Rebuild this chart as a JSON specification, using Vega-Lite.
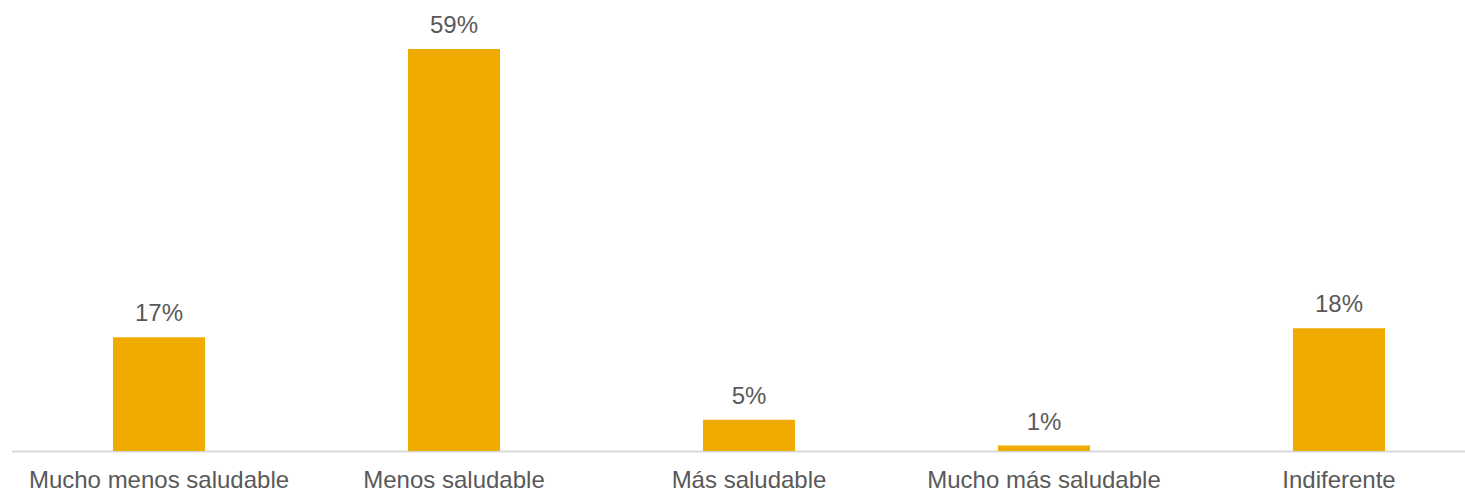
{
  "$schema": "https://vega.github.io/schema/vega-lite/v6.json",
  "width": 1475,
  "height": 402,
  "autosize": {"type": "none"},
  "padding": {"left": 11.5, "top": 49, "right": 0, "bottom": 40},
  "background": "white",
  "config": {"view": {"stroke": null}, "font": "Liberation Sans"},
  "data": {
    "values": [
      {"cat": "Mucho menos saludable", "pct": 16.7, "label": "17%"},
      {"cat": "Menos saludable", "pct": 59, "label": "59%"},
      {"cat": "Más saludable", "pct": 4.6, "label": "5%"},
      {"cat": "Mucho más saludable", "pct": 0.8, "label": "1%"},
      {"cat": "Indiferente", "pct": 18, "label": "18%"}
    ]
  },
  "encoding": {
    "x": {
      "field": "cat",
      "type": "nominal",
      "sort": null,
      "scale": {"paddingInner": 0.688, "paddingOuter": 0.344},
      "axis": {
        "title": null,
        "labelAngle": 0,
        "ticks": false,
        "labelFontSize": 24,
        "labelLimit": 0,
        "labelColor": "#595959",
        "labelBaseline": "alphabetic",
        "labelPadding": 36,
        "domainColor": "#D9D9D9",
        "domainWidth": 2,
        "labelFont": "Liberation Sans"
      }
    },
    "y": {
      "field": "pct",
      "type": "quantitative",
      "scale": {"domain": [0, 59], "nice": false, "zero": true},
      "axis": null
    }
  },
  "layer": [
    {"mark": {"type": "bar", "color": "#F0AB00"}},
    {
      "mark": {"type": "text", "dy": -16, "baseline": "alphabetic", "fontSize": 24, "color": "#595959", "font": "Liberation Sans"},
      "encoding": {"text": {"field": "label", "type": "nominal"}}
    }
  ]
}
